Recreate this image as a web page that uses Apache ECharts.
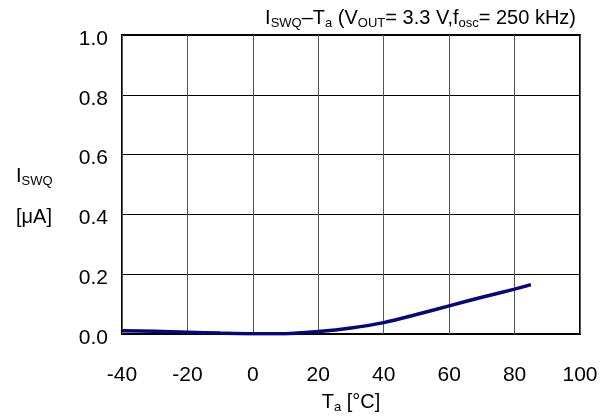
<!DOCTYPE html>
<html>
<head>
<meta charset="utf-8">
<script src="https://cdn.jsdelivr.net/npm/echarts@6/dist/echarts.min.js"></script>
<style>
  html, body { margin: 0; padding: 0; background: #fff; }
  #main { width: 612px; height: 419px; }
</style>
</head>
<body>
<div id="main"></div>
<script>
// ambient temperature [°C]
const tempC = [-40, -30, -20, -10, 0, 10, 20, 30, 40, 50, 60, 70, 80, 85]
// switching quiescent current [µA]
const iswq = [0.011, 0.009, 0.006, 0.003, 0.001, 0.001, 0.008, 0.02, 0.038, 0.065, 0.094, 0.123, 0.150, 0.165]
const xTicks = [-40, -20, 0, 20, 40, 60, 80, 100]
const yTicks = [0.0, 0.2, 0.4, 0.6, 0.8, 1.0]

const font = '"Liberation Sans", Arial, sans-serif'
const big = { fontSize: 20, fontFamily: font, fontWeight: 'normal', color: '#000', lineHeight: 24, verticalAlign: 'middle' }
const sub = { fontSize: 13, fontFamily: font, fontWeight: 'normal', color: '#000', lineHeight: 13, verticalAlign: 'bottom' }

const chart = echarts.init(document.getElementById('main'), null, { renderer: 'canvas' })

chart.setOption({
  animation: false,
  title: {
    text: '{n|I}{s|SWQ}{n|–T}{s|a}{n| (V}{s|OUT}{n|= 3.3 V,f}{s|osc}{n|= 250 kHz)}',
    right: 36,
    top: 6,
    padding: 0,
    textStyle: { fontWeight: 'normal', rich: { n: big, s: sub } },
  },
  grid: {
    left: 122,
    right: 32,
    top: 35,
    bottom: 85,
    outerBoundsMode: 'none',
    containLabel: false,
    show: true,
    borderColor: '#000',
    borderWidth: 2,
  },
  xAxis: {
    type: 'value',
    min: xTicks[0],
    max: xTicks[xTicks.length - 1],
    interval: 20,
    axisLine: { show: false },
    axisTick: { show: false },
    splitLine: { lineStyle: { color: '#555', width: 1 } },
    axisLabel: { color: '#000', fontSize: 21, fontFamily: font, margin: 31 },
    name: '{n|T}{s|a}{n| [°C]}',
    nameLocation: 'middle',
    nameGap: 56,
    nameTextStyle: { rich: { n: big, s: sub } },
  },
  yAxis: {
    type: 'value',
    min: yTicks[0],
    max: yTicks[yTicks.length - 1],
    interval: 0.2,
    axisLine: { show: false },
    axisTick: { show: false },
    splitLine: { lineStyle: { color: '#000', width: 1 } },
    axisLabel: {
      margin: 14,
      formatter: v => '{v|' + v.toFixed(1) + '}',
      rich: { v: { color: '#000', fontSize: 21, fontFamily: font, padding: [8, 0, 0, 0] } },
    },
  },
  graphic: [
    {
      type: 'text',
      left: 16,
      top: 166,
      style: { text: '{n|I}{s|SWQ}', rich: { n: big, s: sub } },
    },
    {
      type: 'text',
      left: 16,
      top: 207,
      style: { text: '[μA]', fontSize: 20, fontFamily: font, fill: '#000' },
    },
  ],
  series: [
    {
      type: 'line',
      data: tempC.map((t, i) => [t, iswq[i]]),
      smooth: 0.3,
      symbol: 'none',
      lineStyle: { color: '#06067e', width: 3.5 },
    },
  ],
})
</script>
</body>
</html>
